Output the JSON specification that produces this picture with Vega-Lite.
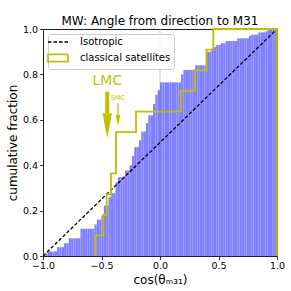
{
  "$schema": "https://vega.github.io/schema/vega-lite/v6.json",
  "width": 234,
  "height": 227,
  "autosize": {"type": "none"},
  "padding": {"left": 43, "top": 29, "right": 14, "bottom": 35},
  "background": "white",
  "title": {"text": "MW: Angle from direction to M31", "fontSize": 12, "font": "DejaVu Sans", "fontWeight": "normal", "color": "black", "anchor": "middle", "offset": -4},
  "config": {
    "font": "DejaVu Sans",
    "view": {"stroke": "#222222", "strokeWidth": 1},
    "axis": {"domain": false, "grid": false, "labelFlush": false, "tickColor": "black", "tickSize": 3.5, "tickWidth": 0.8, "labelFont": "DejaVu Sans", "labelFontSize": 9.5, "labelColor": "black", "titleFont": "DejaVu Sans", "titleFontSize": 12, "titleFontWeight": "normal", "titleColor": "black"}
  },
  "datasets": {
    "hist": [
      {"lo": -1.00, "hi": -0.98, "frac": 0.01},
      {"lo": -0.98, "hi": -0.96, "frac": 0.01},
      {"lo": -0.96, "hi": -0.94, "frac": 0.02},
      {"lo": -0.94, "hi": -0.92, "frac": 0.02},
      {"lo": -0.92, "hi": -0.90, "frac": 0.02},
      {"lo": -0.90, "hi": -0.88, "frac": 0.02},
      {"lo": -0.88, "hi": -0.86, "frac": 0.039},
      {"lo": -0.86, "hi": -0.84, "frac": 0.039},
      {"lo": -0.84, "hi": -0.82, "frac": 0.039},
      {"lo": -0.82, "hi": -0.80, "frac": 0.056},
      {"lo": -0.80, "hi": -0.78, "frac": 0.056},
      {"lo": -0.78, "hi": -0.76, "frac": 0.078},
      {"lo": -0.76, "hi": -0.74, "frac": 0.078},
      {"lo": -0.74, "hi": -0.72, "frac": 0.078},
      {"lo": -0.72, "hi": -0.70, "frac": 0.078},
      {"lo": -0.70, "hi": -0.68, "frac": 0.078},
      {"lo": -0.68, "hi": -0.66, "frac": 0.12},
      {"lo": -0.66, "hi": -0.64, "frac": 0.12},
      {"lo": -0.64, "hi": -0.62, "frac": 0.12},
      {"lo": -0.62, "hi": -0.60, "frac": 0.12},
      {"lo": -0.60, "hi": -0.58, "frac": 0.12},
      {"lo": -0.58, "hi": -0.56, "frac": 0.12},
      {"lo": -0.56, "hi": -0.54, "frac": 0.139},
      {"lo": -0.54, "hi": -0.52, "frac": 0.16},
      {"lo": -0.52, "hi": -0.50, "frac": 0.16},
      {"lo": -0.50, "hi": -0.48, "frac": 0.18},
      {"lo": -0.48, "hi": -0.46, "frac": 0.222},
      {"lo": -0.46, "hi": -0.44, "frac": 0.222},
      {"lo": -0.44, "hi": -0.42, "frac": 0.259},
      {"lo": -0.42, "hi": -0.40, "frac": 0.277},
      {"lo": -0.40, "hi": -0.38, "frac": 0.277},
      {"lo": -0.38, "hi": -0.36, "frac": 0.325},
      {"lo": -0.36, "hi": -0.34, "frac": 0.347},
      {"lo": -0.34, "hi": -0.32, "frac": 0.347},
      {"lo": -0.32, "hi": -0.30, "frac": 0.35},
      {"lo": -0.30, "hi": -0.28, "frac": 0.377},
      {"lo": -0.28, "hi": -0.26, "frac": 0.377},
      {"lo": -0.26, "hi": -0.24, "frac": 0.40},
      {"lo": -0.24, "hi": -0.22, "frac": 0.44},
      {"lo": -0.22, "hi": -0.20, "frac": 0.48},
      {"lo": -0.20, "hi": -0.18, "frac": 0.48},
      {"lo": -0.18, "hi": -0.16, "frac": 0.51},
      {"lo": -0.16, "hi": -0.14, "frac": 0.548},
      {"lo": -0.14, "hi": -0.12, "frac": 0.548},
      {"lo": -0.12, "hi": -0.10, "frac": 0.586},
      {"lo": -0.10, "hi": -0.08, "frac": 0.62},
      {"lo": -0.08, "hi": -0.06, "frac": 0.62},
      {"lo": -0.06, "hi": -0.04, "frac": 0.67},
      {"lo": -0.04, "hi": -0.02, "frac": 0.71},
      {"lo": -0.02, "hi": 0.00, "frac": 0.73},
      {"lo": 0.00, "hi": 0.02, "frac": 0.765},
      {"lo": 0.02, "hi": 0.04, "frac": 0.765},
      {"lo": 0.04, "hi": 0.06, "frac": 0.765},
      {"lo": 0.06, "hi": 0.08, "frac": 0.765},
      {"lo": 0.08, "hi": 0.10, "frac": 0.765},
      {"lo": 0.10, "hi": 0.12, "frac": 0.765},
      {"lo": 0.12, "hi": 0.14, "frac": 0.765},
      {"lo": 0.14, "hi": 0.16, "frac": 0.765},
      {"lo": 0.16, "hi": 0.18, "frac": 0.765},
      {"lo": 0.18, "hi": 0.20, "frac": 0.80},
      {"lo": 0.20, "hi": 0.22, "frac": 0.82},
      {"lo": 0.22, "hi": 0.24, "frac": 0.82},
      {"lo": 0.24, "hi": 0.26, "frac": 0.82},
      {"lo": 0.26, "hi": 0.28, "frac": 0.82},
      {"lo": 0.28, "hi": 0.30, "frac": 0.82},
      {"lo": 0.30, "hi": 0.32, "frac": 0.84},
      {"lo": 0.32, "hi": 0.34, "frac": 0.84},
      {"lo": 0.34, "hi": 0.36, "frac": 0.84},
      {"lo": 0.36, "hi": 0.38, "frac": 0.84},
      {"lo": 0.38, "hi": 0.40, "frac": 0.84},
      {"lo": 0.40, "hi": 0.42, "frac": 0.90},
      {"lo": 0.42, "hi": 0.44, "frac": 0.90},
      {"lo": 0.44, "hi": 0.46, "frac": 0.915},
      {"lo": 0.46, "hi": 0.48, "frac": 0.92},
      {"lo": 0.48, "hi": 0.50, "frac": 0.93},
      {"lo": 0.50, "hi": 0.52, "frac": 0.93},
      {"lo": 0.52, "hi": 0.54, "frac": 0.937},
      {"lo": 0.54, "hi": 0.56, "frac": 0.937},
      {"lo": 0.56, "hi": 0.58, "frac": 0.947},
      {"lo": 0.58, "hi": 0.60, "frac": 0.947},
      {"lo": 0.60, "hi": 0.62, "frac": 0.947},
      {"lo": 0.62, "hi": 0.64, "frac": 0.947},
      {"lo": 0.64, "hi": 0.66, "frac": 0.947},
      {"lo": 0.66, "hi": 0.68, "frac": 0.959},
      {"lo": 0.68, "hi": 0.70, "frac": 0.959},
      {"lo": 0.70, "hi": 0.72, "frac": 0.959},
      {"lo": 0.72, "hi": 0.74, "frac": 0.959},
      {"lo": 0.74, "hi": 0.76, "frac": 0.959},
      {"lo": 0.76, "hi": 0.78, "frac": 0.97},
      {"lo": 0.78, "hi": 0.80, "frac": 0.975},
      {"lo": 0.80, "hi": 0.82, "frac": 0.975},
      {"lo": 0.82, "hi": 0.84, "frac": 0.975},
      {"lo": 0.84, "hi": 0.86, "frac": 0.985},
      {"lo": 0.86, "hi": 0.88, "frac": 0.985},
      {"lo": 0.88, "hi": 0.90, "frac": 0.985},
      {"lo": 0.90, "hi": 0.92, "frac": 0.99},
      {"lo": 0.92, "hi": 0.94, "frac": 0.996},
      {"lo": 0.94, "hi": 0.96, "frac": 0.996},
      {"lo": 0.96, "hi": 0.98, "frac": 1.0},
      {"lo": 0.98, "hi": 1.00, "frac": 1.0}
    ],
    "iso": [
      {"series": "Isotropic", "x": -1, "y": 0},
      {"series": "Isotropic", "x": 1, "y": 1}
    ],
    "sats": [
      {"series": "classical satellites", "i": 0, "x": -0.553, "y": 0},
      {"series": "classical satellites", "i": 1, "x": -0.553, "y": 0.0909},
      {"series": "classical satellites", "i": 2, "x": -0.484, "y": 0.1818},
      {"series": "classical satellites", "i": 3, "x": -0.456, "y": 0.2727},
      {"series": "classical satellites", "i": 4, "x": -0.419, "y": 0.3636},
      {"series": "classical satellites", "i": 5, "x": -0.376, "y": 0.5455},
      {"series": "classical satellites", "i": 6, "x": -0.205, "y": 0.6364},
      {"series": "classical satellites", "i": 7, "x": 0.177, "y": 0.7273},
      {"series": "classical satellites", "i": 8, "x": 0.297, "y": 0.8182},
      {"series": "classical satellites", "i": 9, "x": 0.397, "y": 0.9091},
      {"series": "classical satellites", "i": 10, "x": 0.456, "y": 1.0},
      {"series": "classical satellites", "i": 11, "x": 1.0, "y": 1.0},
      {"series": "classical satellites", "i": 12, "x": 1.0, "y": 0}
    ],
    "zero": [{"x": 0}],
    "arrows": [
      {"name": "LMC", "x": -0.451, "label_y": 0.753, "top": 0.724, "head": 0.629},
      {"name": "SMC", "x": -0.359, "label_y": 0.687, "top": 0.673, "head": 0.621}
    ]
  },
  "layer": [
    {
      "data": {"name": "hist"},
      "mark": {"type": "rect", "color": "#8080ff", "strokeWidth": 0},
      "encoding": {
        "x": {"field": "lo", "type": "quantitative", "scale": {"domain": [-1, 1], "nice": false, "zero": false},
              "axis": {"values": [-1, -0.5, 0, 0.5, 1], "format": ".1f", "labelPadding": 1, "titlePadding": 4},
              "title": "cos(θₘ₃₁)"},
        "x2": {"field": "hi"},
        "y": {"field": "frac", "type": "quantitative", "scale": {"domain": [0, 1], "nice": false},
              "axis": {"values": [0, 0.2, 0.4, 0.6, 0.8, 1.0], "format": ".1f", "labelPadding": 2, "titlePadding": 2.5},
              "title": "cumulative fraction"},
        "y2": {"datum": 0}
      }
    },
    {
      "data": {"name": "zero"},
      "mark": {"type": "rule", "color": "#7a7a8c", "strokeWidth": 1, "strokeDash": [1, 1.6]},
      "encoding": {"x": {"field": "x", "type": "quantitative"}}
    },
    {
      "data": {"name": "iso"},
      "mark": {"type": "line", "strokeWidth": 1.3, "strokeDash": [3.5, 2]},
      "encoding": {
        "x": {"field": "x", "type": "quantitative"},
        "y": {"field": "y", "type": "quantitative"},
        "color": {"field": "series", "type": "nominal",
                  "scale": {"domain": ["Isotropic", "classical satellites"], "range": ["black", "#bfbf00"]},
                  "legend": {
                    "title": null, "orient": "top-left", "offset": 4.5, "padding": 3,
                    "fillColor": "rgba(255,255,255,0.85)", "strokeColor": "#cccccc", "cornerRadius": 3,
                    "labelFont": "DejaVu Sans", "labelFontSize": 10, "labelColor": "black",
                    "symbolSize": 64, "labelOffset": 19, "rowPadding": 3,
                    "encode": {"symbols": {"update": {
                      "shape": {"signal": "datum.value === 'Isotropic' ? 'M-2,0L3,0' : 'M-2,-0.9L3,-0.9L3,0.9L-2,0.9Z'"},
                      "stroke": {"signal": "datum.value === 'Isotropic' ? 'black' : '#bfbf00'"},
                      "strokeDash": {"signal": "datum.value === 'Isotropic' ? [3.5, 2] : [1, 0]"},
                      "strokeWidth": {"signal": "datum.value === 'Isotropic' ? 1.3 : 1.8"},
                      "fill": {"value": "transparent"},
                      "opacity": {"value": 1}
                    }}}
                  }}
      }
    },
    {
      "data": {"name": "sats"},
      "mark": {"type": "line", "interpolate": "step-after", "strokeWidth": 1.8},
      "encoding": {
        "x": {"field": "x", "type": "quantitative"},
        "y": {"field": "y", "type": "quantitative"},
        "order": {"field": "i", "type": "quantitative"},
        "color": {"field": "series", "type": "nominal"}
      }
    },
    {
      "data": {"name": "arrows"},
      "transform": [{"filter": "datum.name === 'LMC'"}],
      "mark": {"type": "rule", "color": "#bfbf00", "strokeWidth": 4, "strokeCap": "butt"},
      "encoding": {
        "x": {"field": "x", "type": "quantitative"},
        "y": {"field": "top", "type": "quantitative"},
        "y2": {"field": "head"}
      }
    },
    {
      "data": {"name": "arrows"},
      "transform": [{"filter": "datum.name === 'SMC'"}],
      "mark": {"type": "rule", "color": "#bfbf00", "strokeWidth": 1.3, "strokeCap": "butt"},
      "encoding": {
        "x": {"field": "x", "type": "quantitative"},
        "y": {"field": "top", "type": "quantitative"},
        "y2": {"field": "head"}
      }
    },
    {
      "data": {"name": "arrows"},
      "transform": [{"filter": "datum.name === 'LMC'"}],
      "mark": {"type": "point", "shape": "M-0.37,0L0.37,0L0,2Z", "size": 625, "filled": true, "color": "#bfbf00", "opacity": 1, "strokeWidth": 0},
      "encoding": {
        "x": {"field": "x", "type": "quantitative"},
        "y": {"field": "head", "type": "quantitative"}
      }
    },
    {
      "data": {"name": "arrows"},
      "transform": [{"filter": "datum.name === 'SMC'"}],
      "mark": {"type": "point", "shape": "M-0.43,0L0.43,0L0,2Z", "size": 121, "filled": true, "color": "#bfbf00", "opacity": 1, "strokeWidth": 0},
      "encoding": {
        "x": {"field": "x", "type": "quantitative"},
        "y": {"field": "head", "type": "quantitative"}
      }
    },
    {
      "data": {"name": "arrows"},
      "transform": [{"filter": "datum.name === 'LMC'"}],
      "mark": {"type": "text", "fontSize": 14, "color": "#bfbf00", "align": "center", "baseline": "alphabetic", "font": "DejaVu Sans"},
      "encoding": {
        "x": {"field": "x", "type": "quantitative"},
        "y": {"field": "label_y", "type": "quantitative"},
        "text": {"field": "name"}
      }
    },
    {
      "data": {"name": "arrows"},
      "transform": [{"filter": "datum.name === 'SMC'"}],
      "mark": {"type": "text", "fontSize": 6.5, "color": "#bfbf00", "align": "center", "baseline": "alphabetic", "font": "DejaVu Sans"},
      "encoding": {
        "x": {"field": "x", "type": "quantitative"},
        "y": {"field": "label_y", "type": "quantitative"},
        "text": {"field": "name"}
      }
    }
  ]
}
